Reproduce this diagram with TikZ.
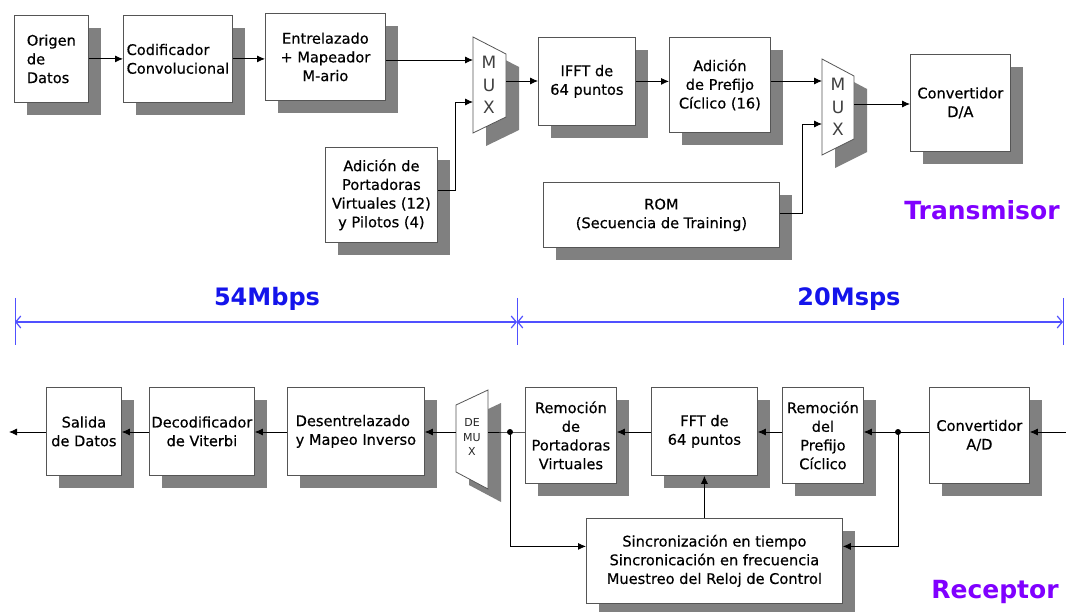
\documentclass[tikz,border=0pt]{standalone}
\usepackage{fontspec}
\setmainfont{DejaVu Sans}
\newfontfamily\blkfont{DejaVu Sans}[FakeBold=0.45]
\usetikzlibrary{shadows,arrows.meta,calc}
\definecolor{shadowgray}{RGB}{128,128,128}
\definecolor{boxline}{RGB}{85,85,85}
\definecolor{ratecol}{RGB}{20,20,235}
\definecolor{rateline}{RGB}{80,80,255}
\definecolor{titlecol}{RGB}{128,0,255}
\begin{document}
\begin{tikzpicture}[x=1pt,y=-1pt,
  shad/.style={drop shadow={shadow xshift=13pt,shadow yshift=-13pt,fill=shadowgray,opacity=1}},
  blk/.style={shad,draw=boxline,line width=0.8pt,fill=white,inner sep=0pt,anchor=north west,
    font=\blkfont\fontsize{14.6}{18.7}\selectfont,align=center},
  muxs/.style={shad,draw=boxline,line width=0.8pt,fill=white},
  muxtxt/.style={font=\fontsize{17}{22.5}\selectfont,text=black!75,align=center,inner sep=0pt},
  demuxtxt/.style={font=\fontsize{11}{14.5}\selectfont,text=black!85,align=center,inner sep=0pt},
  arr/.style={-{Latex[length=8pt,width=7pt]},line width=0.8pt},
  wire/.style={line width=0.8pt},
  rarr/.style={rateline,line width=2pt,{Straight Barb[length=5pt,width=12pt,line width=1.2pt]}-{Straight Barb[length=5pt,width=12pt,line width=1.2pt]}},
  tick/.style={rateline,line width=1pt},
  ratetext/.style={text=ratecol,font=\bfseries\fontsize{24}{28}\selectfont,inner sep=0pt},
  titletext/.style={text=titlecol,font=\bfseries\fontsize{25}{30}\selectfont,inner sep=0pt}
]
\path[use as bounding box,fill=white] (0,0) rectangle (1066,612);

% ---------------- Transmisor ----------------
\node[blk,align=left,minimum width=74pt,minimum height=87pt] (origen) at (14,15) {Origen\\de\\Datos};
\node[blk,align=left,minimum width=109pt,minimum height=87pt] (codif) at (123,15) {Codificador\\Convolucional};
\node[blk,minimum width=120pt,minimum height=87pt] (entrel) at (265,13) {Entrelazado\\+ Mapeador\\M-ario};
\node[blk,minimum width=112pt,minimum height=95pt] (port) at (325,147) {Adición de\\Portadoras\\Virtuales (12)\\y Pilotos (4)};
\node[blk,minimum width=97pt,minimum height=88pt] (ifft) at (538,37) {IFFT de\\64 puntos};
\node[blk,minimum width=101pt,minimum height=95pt] (pref) at (669,37) {Adición\\de Prefijo\\Cíclico (16)};
\node[blk,minimum width=236pt,minimum height=65pt] (rom) at (543,182) {ROM\\(Secuencia de Training)};
\node[blk,minimum width=100pt,minimum height=97pt] (da) at (910,54) {Convertidor\\D/A};

% MUX 1
\draw[muxs] (473,37) -- (506,54) -- (506,117) -- (473,133) -- cycle;
\coordinate (m1a) at (473,60);
\coordinate (m1b) at (473,102);
\coordinate (m1o) at (506,81);
\node[muxtxt] (mux1) at (489,85) {M\\U\\X};
% MUX 2
\draw[muxs] (822,59) -- (854,76) -- (854,139) -- (822,155) -- cycle;
\coordinate (m2a) at (822,81);
\coordinate (m2b) at (822,124);
\coordinate (m2o) at (854,104);
\node[muxtxt] (mux2) at (838,107) {M\\U\\X};

\draw[arr] (origen) -- (codif);
\draw[arr] (codif.east) -- (codif.east -| entrel.west);
\draw[arr] (entrel.east |- m1a) -- (m1a);
\draw[arr] ([yshift=4pt]port.east) -| ([xshift=-18pt]m1b) -- (m1b);
\draw[arr] (m1o) -- (m1o -| ifft.west);
\draw[arr] (ifft.east) -- (ifft.east -| pref.west);
\draw[arr] (pref.east |- m2a) -- (m2a);
\draw[arr] ([yshift=1.5pt]rom.east) -| ([xshift=-20pt]m2b) -- (m2b);
\draw[arr] (m2o) -- (m2o -| da.west);

\node[titletext] (tx) at (982,210) {Transmisor};

% ---------------- Rates ----------------
\coordinate (rL) at (15,322);
\coordinate (rM) at (517,322);
\coordinate (rR) at (1063,322);
\draw[tick] ([yshift=24pt]rL) -- ([yshift=-23pt]rL);
\draw[tick] ([yshift=24pt]rM) -- ([yshift=-23pt]rM);
\draw[tick] ([yshift=24pt]rR) -- ([yshift=-23pt]rR);
\draw[rarr] (rL) -- (rM);
\draw[rarr] (rM) -- (rR);
\node[ratetext] (r1) at (267,299) {54Mbps};
\node[ratetext] (r2) at (849,299) {20Msps};

% ---------------- Receptor ----------------
\node[blk,minimum width=75pt,minimum height=88pt] (salida) at (46,387) {Salida\\de Datos};
\node[blk,minimum width=105pt,minimum height=88pt] (decod) at (149,387) {Decodificador\\de Viterbi};
\node[blk,align=left,minimum width=137pt,minimum height=88pt] (desent) at (287,387) {Desentrelazado\\y Mapeo Inverso};
\node[blk,minimum width=91pt,minimum height=96pt] (remport) at (525,387) {Remoción\\de\\Portadoras\\Virtuales};
\node[blk,minimum width=106pt,minimum height=88pt] (fft) at (651,387) {FFT de\\64 puntos};
\node[blk,minimum width=81pt,minimum height=96pt] (rempre) at (782,387) {Remoción\\del\\Prefijo\\Cíclico};
\node[blk,minimum width=100pt,minimum height=96pt] (ad) at (929,387) {Convertidor\\A/D};
\node[blk,minimum width=256pt,minimum height=85pt] (sinc) at (586,518) {Sincronización en tiempo\\Sincronicación en frecuencia\\Muestreo del Reloj de Control};

% DEMUX
\draw[muxs] (456,405) -- (488,390) -- (488,489) -- (456,472) -- cycle;
\coordinate (dmo) at (456,432);
\coordinate (dmi) at (488,432);
\node[demuxtxt] (demux) at (472,437) {DE\\MU\\X};

\coordinate (rxin) at (1066,432);
\coordinate (rxout) at (9,432);
\coordinate (j2) at (898,432);
\coordinate (j1) at (510,432);

\draw[arr] (rxin) -- (rxin -| ad.east);
\draw[wire] (ad.west |- j2) -- (j2);
\draw[arr] (j2) -- (j2 -| rempre.east);
\draw[arr] (rempre.west |- j2) -- (j2 -| fft.east);
\draw[arr] (fft.west |- j2) -- (j2 -| remport.east);
\draw[wire] (remport.west |- j2) -- (j1) -- (dmi);
\draw[arr] (dmo) -- (dmo -| desent.east);
\draw[arr] (desent.west |- j2) -- (j2 -| decod.east);
\draw[arr] (decod.west |- j2) -- (j2 -| salida.east);
\draw[arr] (salida.west |- j2) -- (rxout);
\draw[arr] (j1) |- ([yshift=14.5pt]sinc.west);
\draw[arr] (j2) |- ([yshift=14.5pt]sinc.east);
\draw[arr] (sinc.north -| fft.south) -- (fft.south);
\fill (j1) circle (3pt);
\fill (j2) circle (3pt);

\node[titletext] (rx) at (995,592) {Receptor};
\end{tikzpicture}
\end{document}
